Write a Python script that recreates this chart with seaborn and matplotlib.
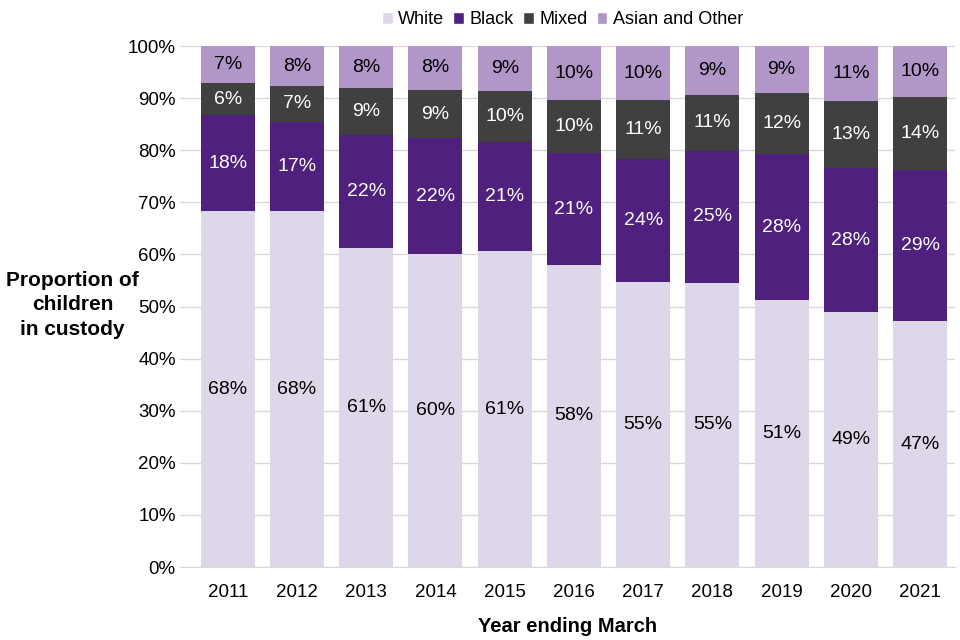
import pandas as pd
import matplotlib
matplotlib.use("Agg")
import matplotlib.pyplot as plt
import seaborn as sns
from matplotlib.patches import Patch

years = ["2011", "2012", "2013", "2014", "2015", "2016", "2017", "2018", "2019", "2020", "2021"]
white = [68.3, 68.3, 61.2, 60.1, 60.6, 58.0, 54.8, 54.6, 51.2, 48.9, 47.2]
black = [18.4, 17.2, 21.7, 22.2, 21.0, 21.4, 23.6, 25.3, 28.1, 27.7, 29.0]
mixed = [6.2, 6.8, 9.0, 9.3, 9.8, 10.2, 11.2, 10.8, 11.7, 12.8, 14.0]
asian = [7.1, 7.7, 8.1, 8.4, 8.6, 10.4, 10.4, 9.3, 9.0, 10.6, 9.8]

groups = ["White", "Black", "Mixed", "Asian and Other"]
colors = ["#DED6E9", "#4F207D", "#404040", "#B196C8"]
text_colors = ["black", "white", "white", "black"]

df = pd.DataFrame({"year": years, "White": white, "Black": black,
                   "Mixed": mixed, "Asian and Other": asian})
cum = df[groups].cumsum(axis=1)
cum["year"] = years

sns.set_style("white")
plt.rcParams["font.family"] = ["Liberation Sans", "DejaVu Sans"]
plt.rcParams["text.color"] = "black"
plt.rcParams["xtick.color"] = "black"
plt.rcParams["ytick.color"] = "black"
plt.rcParams["axes.labelcolor"] = "black"

fig = plt.figure(figsize=(9.6, 6.4), dpi=100)
ax = fig.add_axes([0.1875, 0.114, 0.807, 0.814])

# draw tallest cumulative layer first so lower segments sit on top
for g, c in reversed(list(zip(groups, colors))):
    sns.barplot(data=cum, x="year", y=g, color=c, width=0.78, ax=ax,
                saturation=1, linewidth=0, zorder=2)

# segment labels
for i in range(len(years)):
    base = 0
    for g, tc in zip(groups, text_colors):
        v = df[g][i]
        ax.text(i, base + v / 2, f"{round(v)}%", ha="center", va="center",
                fontsize=14, color=tc, zorder=3)
        base += v

ax.set_ylim(0, 100)
ax.set_xlim(-0.69, len(years) - 0.5)
ax.set_yticks(range(0, 101, 10))
ax.set_yticklabels([f"{t}%" for t in range(0, 101, 10)], fontsize=13.5)
ax.tick_params(axis="x", labelsize=13.5, length=0, pad=12)
ax.tick_params(axis="y", length=0, pad=3)
ax.yaxis.grid(True, color="#D9D9D9", linewidth=1, zorder=0)
ax.set_axisbelow(True)
for s in ["top", "right", "left"]:
    ax.spines[s].set_visible(False)
ax.spines["bottom"].set_color("#D9D9D9")

ax.set_xlabel("Year ending March", fontsize=14.5, fontweight="bold", labelpad=12)
ax.set_ylabel("Proportion of\nchildren\nin custody", fontsize=15,
              fontweight="bold", rotation=0, ha="center", va="center",
              linespacing=1.35)
ax.yaxis.set_label_coords(-0.139, 0.503)

handles = [Patch(facecolor=c, label=g) for g, c in zip(groups, colors)]
fig.legend(handles=handles, loc="center", bbox_to_anchor=(0.586, 0.969),
           ncol=4, frameon=False, fontsize=13, handlelength=0.6,
           handleheight=0.6, handletextpad=0.3, columnspacing=0.5)

fig.savefig("out.png", dpi=100)
